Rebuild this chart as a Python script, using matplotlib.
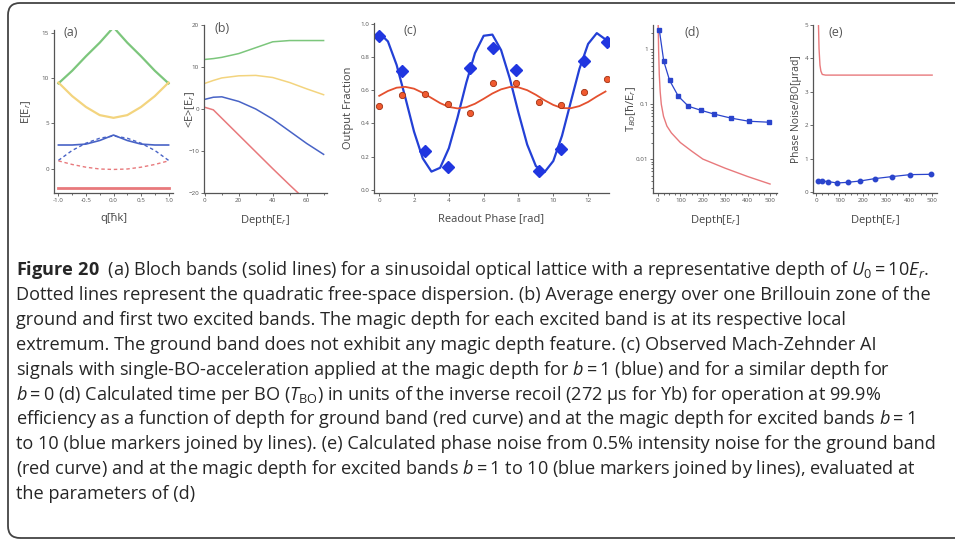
import matplotlib
matplotlib.use("Agg")
import matplotlib.pyplot as plt
from matplotlib.patches import FancyBboxPatch
from matplotlib.transforms import IdentityTransform
from matplotlib.ticker import AutoMinorLocator, FixedLocator, NullFormatter

plt.rcParams["font.family"] = ["Open Sans", "DejaVu Sans"]
plt.rcParams["mathtext.fontset"] = "custom"
plt.rcParams["mathtext.rm"] = "Open Sans"
plt.rcParams["mathtext.it"] = "Open Sans:italic"
plt.rcParams["mathtext.bf"] = "Open Sans:bold"

# (a) Bloch bands at U0 = 10 Er
q = [-1.0, -0.75, -0.5, -0.25, 0.0, 0.25, 0.5, 0.75, 1.0]
band0 = [-2.2, -2.2, -2.2, -2.2, -2.2, -2.2, -2.2, -2.2, -2.2]
band1 = [2.6, 2.6, 2.7, 3.1, 3.7, 3.1, 2.7, 2.6, 2.6]
band2 = [9.5, 8.0, 6.8, 5.9, 5.6, 5.9, 6.8, 8.0, 9.5]
band3 = [9.4, 10.8, 12.4, 13.9, 15.6, 13.9, 12.4, 10.8, 9.4]
free0 = [0.85, 0.45, 0.15, -0.05, -0.1, -0.05, 0.15, 0.45, 0.85]
free1 = [0.9, 2.0, 2.8, 3.35, 3.6, 3.35, 2.8, 2.0, 0.9]

# (b) band-averaged energy vs depth
depth_b = [0, 5, 10, 20, 30, 40, 50, 60, 70]
avg1 = [2.3, 2.8, 2.9, 1.8, 0.0, -2.4, -5.3, -8.2, -10.8]
avg2 = [6.1, 6.8, 7.4, 7.9, 8.0, 7.5, 6.3, 4.8, 3.4]
avg3 = [11.8, 12.0, 12.3, 13.2, 14.6, 16.0, 16.3, 16.3, 16.3]
depth_b0 = [0, 5, 10, 20, 30, 40, 50, 55]
avg0 = [0.4, -0.2, -2.2, -6.2, -10.2, -14.2, -18.1, -20.0]

# (c) interferometer readout
phase = [0.0, 1.31, 2.62, 3.93, 5.24, 6.54, 7.85, 9.16, 10.47, 11.78, 13.09]
frac_b1 = [0.928, 0.713, 0.231, 0.137, 0.733, 0.857, 0.723, 0.110, 0.247, 0.773, 0.890]
frac_b0 = [0.506, 0.572, 0.578, 0.518, 0.462, 0.646, 0.643, 0.526, 0.512, 0.586, 0.667]
phase_fit = [0.0, 0.5, 1.0, 1.5, 2.0, 2.5, 3.0, 3.5, 4.0, 4.5, 5.0, 5.5, 6.0, 6.5,
             7.0, 7.5, 8.0, 8.5, 9.0, 9.5, 10.0, 10.5, 11.0, 11.5, 12.0, 12.5, 13.0]
fit_b1 = [0.945, 0.894, 0.752, 0.555, 0.350, 0.189, 0.109, 0.132, 0.250, 0.436,
          0.644, 0.823, 0.928, 0.935, 0.842, 0.671, 0.464, 0.272, 0.142, 0.106,
          0.173, 0.325, 0.527, 0.728, 0.879, 0.944, 0.906]
fit_b0 = [0.566, 0.595, 0.615, 0.620, 0.609, 0.584, 0.553, 0.522, 0.499, 0.490,
          0.497, 0.518, 0.548, 0.580, 0.605, 0.619, 0.617, 0.600, 0.572, 0.539,
          0.511, 0.492, 0.491, 0.504, 0.529, 0.562, 0.592]

# (d), (e) magic depths for b = 1..10
magic_depth = [6, 26, 52, 91, 136, 190, 252, 325, 405, 497]
tbo_magic = [2.31, 0.61, 0.273, 0.14, 0.092, 0.078, 0.066, 0.056, 0.049, 0.047]
noise_magic = [0.33, 0.33, 0.31, 0.27, 0.29, 0.33, 0.40, 0.46, 0.52, 0.53]
depth_g = [1, 3, 6, 10, 15, 25, 40, 60, 100, 150, 200, 300, 400, 500]
tbo_ground = [3.0, 1.0, 0.35, 0.17, 0.1, 0.06, 0.04, 0.03, 0.02, 0.014, 0.01,
              0.0068, 0.0048, 0.0035]
depth_gn = [5, 9, 12, 16, 20, 26, 40, 100, 200, 300, 400, 500]
noise_ground = [8.0, 5.2, 4.3, 3.8, 3.62, 3.52, 3.5, 3.5, 3.5, 3.5, 3.5, 3.5]

caption = [
    r"$\mathbf{Figure\ 20}$  (a) Bloch bands (solid lines) for a sinusoidal optical lattice with a representative depth of $U_0 = 10E_r$.",
    "Dotted lines represent the quadratic free-space dispersion. (b) Average energy over one Brillouin zone of the",
    "ground and first two excited bands. The magic depth for each excited band is at its respective local",
    "extremum. The ground band does not exhibit any magic depth feature. (c) Observed Mach-Zehnder AI",
    r"signals with single-BO-acceleration applied at the magic depth for $b = 1$ (blue) and for a similar depth for",
    r"$b = 0$ (d) Calculated time per BO ($T_{\mathrm{BO}}$) in units of the inverse recoil (272 µs for Yb) for operation at 99.9%",
    r"efficiency as a function of depth for ground band (red curve) and at the magic depth for excited bands $b = 1$",
    "to 10 (blue markers joined by lines). (e) Calculated phase noise from 0.5% intensity noise for the ground band",
    r"(red curve) and at the magic depth for excited bands $b = 1$ to 10 (blue markers joined by lines), evaluated at",
    "the parameters of (d)",
]

W, H = 955, 541
GREEN, YELLOW, BLUE, RED = "#7cc67c", "#f3d47e", "#4863c6", "#e8797c"
AX_COL = "#555555"


def px_axes(left, top, right, bottom):
    return fig.add_axes([left / W, 1 - bottom / H, (right - left) / W, (bottom - top) / H])


def style(ax):
    for s in ("top", "right"):
        ax.spines[s].set_visible(False)
    for s in ("left", "bottom"):
        ax.spines[s].set_color(AX_COL)
        ax.spines[s].set_linewidth(0.9)
    ax.tick_params(which="both", direction="out", length=2, width=0.6,
                   colors=AX_COL, labelsize=4.5, pad=1.5)
    ax.tick_params(which="minor", length=1.2)
    ax.patch.set_alpha(0)


def labels(ax, xl, yl, ypos, size=8):
    ax.set_xlabel(xl, fontsize=8, color="#444444")
    ax.set_ylabel(yl, fontsize=size, color="#444444")
    ax.xaxis.set_label_coords(0.5, -0.12)
    ax.yaxis.set_label_coords(ypos, 0.5)


fig = plt.figure(figsize=(W / 100, H / 100), dpi=100)

box = FancyBboxPatch((8, 3), 990, 535, boxstyle="round,pad=0,rounding_size=12",
                     transform=IdentityTransform(), facecolor="none",
                     edgecolor="#444444", linewidth=1.3)
fig.patches.append(box)

# (a)
ax = px_axes(54, 30, 173, 193)
style(ax)
ax.plot(q, band3, color=GREEN, lw=1.6)
ax.plot(q, band2, color=YELLOW, lw=1.6)
ax.plot(q, band1, color=BLUE, lw=1.2)
ax.plot(q, free1, color=BLUE, lw=1.0, ls=(0, (2.5, 2)))
ax.plot(q, free0, color=RED, lw=1.0, ls=(0, (2.5, 2)))
ax.plot(q, band0, color=RED, lw=2.0)
ax.set_xlim(-1.08, 1.08)
ax.set_ylim(-2.7, 15.3)
ax.set_xticks([-1.0, -0.5, 0.0, 0.5, 1.0])
ax.set_xticklabels(["-1.0", "-0.5", "0.0", "0.5", "1.0"])
ax.set_yticks([0, 5, 10, 15])
ax.xaxis.set_minor_locator(AutoMinorLocator(2))
labels(ax, "q[ħk]", r"E[E$_r$]", -0.18)

# (b)
ax = px_axes(204, 25, 327, 193)
style(ax)
ax.plot(depth_b, avg3, color=GREEN, lw=1.1)
ax.plot(depth_b, avg2, color=YELLOW, lw=1.1)
ax.plot(depth_b, avg1, color=BLUE, lw=1.1)
ax.plot(depth_b0, avg0, color=RED, lw=1.1)
ax.set_xlim(-0.5, 72)
ax.set_ylim(-20, 20)
ax.set_xticks([0, 20, 40, 60])
ax.set_yticks([-20, -10, 0, 10, 20])
ax.xaxis.set_minor_locator(AutoMinorLocator(2))
labels(ax, r"Depth[E$_r$]", r"<E>[E$_r$]", -0.06)

# (c)
ax = px_axes(374, 23, 609, 193)
style(ax)
ax.plot(phase_fit, fit_b1, color="#2340d6", lw=1.6)
ax.plot(phase_fit, fit_b0, color="#e4502e", lw=1.3)
ax.plot(phase, frac_b1, ls="none", marker="D", ms=6.5, color="#2036e0")
ax.plot(phase, frac_b0, ls="none", marker="o", ms=4.5, color="#f05a30",
        mec="#a03010", mew=0.6)
ax.set_xlim(-0.3, 13.2)
ax.set_ylim(-0.02, 1.005)
ax.set_xticks([0, 2, 4, 6, 8, 10, 12])
ax.set_yticks([0.0, 0.2, 0.4, 0.6, 0.8, 1.0])
ax.set_yticklabels(["0.0", "0.2", "0.4", "0.6", "0.8", "1.0"])
labels(ax, "Readout Phase [rad]", "Output Fraction", -0.085)

# (d)
ax = px_axes(653, 25, 777, 193)
style(ax)
ax.plot(depth_g, tbo_ground, color=RED, lw=1.0)
ax.plot(magic_depth, tbo_magic, color="#2a44cc", lw=0.9, marker="s", ms=3.2)
ax.set_yscale("log")
ax.set_xlim(-22, 531)
ax.set_ylim(0.0024, 2.8)
ax.yaxis.set_major_locator(FixedLocator([0.01, 0.1, 1]))
ax.set_yticklabels(["0.01", "0.1", "1"])
ax.yaxis.set_minor_formatter(NullFormatter())
ax.set_xticks([0, 100, 200, 300, 400, 500])
ax.xaxis.set_minor_locator(AutoMinorLocator(4))
labels(ax, r"Depth[E$_r$]", r"T$_{BO}$[ħ/E$_r$]", -0.12)

# (e)
ax = px_axes(813, 25, 937, 193)
style(ax)
ax.plot(depth_gn, noise_ground, color=RED, lw=1.0)
ax.plot(magic_depth, noise_magic, color="#2a44cc", lw=0.9, marker="o", ms=3.2)
ax.set_xlim(-14, 521)
ax.set_ylim(-0.03, 5.0)
ax.set_yticks([0, 1, 2, 3, 4, 5])
ax.set_xticks([0, 100, 200, 300, 400, 500])
ax.xaxis.set_minor_locator(AutoMinorLocator(4))
labels(ax, r"Depth[E$_r$]", "Phase Noise/BO[µrad]", -0.085, size=7.5)

for tag, x, y in [("(a)", 71, 33), ("(b)", 222, 28), ("(c)", 410, 30),
                  ("(d)", 692, 32), ("(e)", 836, 32)]:
    fig.text(x / W, 1 - y / H, tag, fontsize=9, color="#555555",
             ha="center", va="center")

for i, line in enumerate(caption):
    y = 270 + i * 24.9
    fig.text(16 / W, 1 - y / H, line, fontsize=13.1, color="#262626",
             ha="left", va="center")

fig.savefig("out.png", dpi=100)
